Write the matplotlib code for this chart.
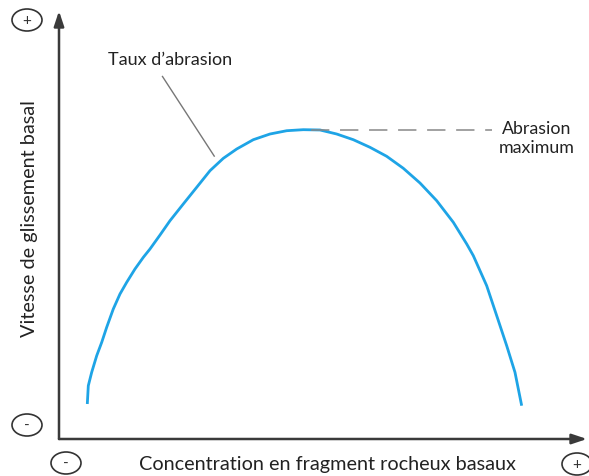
import matplotlib.pyplot as plt
from matplotlib.patches import Ellipse

plt.rcParams['font.family'] = ['Lato', 'DejaVu Sans']

# curve (x: concentration, y: vitesse), 0-100 scale
conc = [5.36, 5.55, 6.19, 7.14, 8.09, 9.03, 10.28, 11.55, 12.82, 14.39, 15.97,
        17.23, 19.13, 21.02, 23.54, 26.08, 28.60, 31.12, 33.66, 36.80, 39.96,
        43.13, 46.27, 49.43, 52.59, 55.74, 58.90, 62.06, 65.21, 68.37, 71.53,
        74.68, 77.22, 78.47, 81.00, 82.90, 84.79, 86.36, 87.63]
vitesse = [8.18, 12.45, 15.58, 19.46, 22.59, 26.10, 30.37, 33.88, 36.61, 39.72,
           42.45, 44.39, 47.66, 51.00, 54.91, 58.81, 62.69, 65.58, 67.76, 69.93,
           71.26, 72.03, 72.27, 72.20, 71.26, 69.93, 68.15, 66.05, 63.25, 59.81,
           55.68, 50.63, 45.56, 42.83, 35.82, 28.81, 21.80, 15.58, 7.78]

x_label = "Concentration en fragment rocheux basaux"
y_label = "Vitesse de glissement basal"
curve_label = "Taux d\u2019abrasion"
max_label = "Abrasion\nmaximum"

fig = plt.figure(figsize=(5.89, 4.77), dpi=100)
W, H = 589, 477
x0, y0 = 59, 440
ax = fig.add_axes([x0 / W, (H - y0) / H, (587 - x0) / W, (y0 - 12) / H])
ax.set_xlim(0, 100)
ax.set_ylim(0, 100)
ax.axis('off')

axis_col = '#3a3a3a'
arrow = dict(arrowstyle='-|>,head_length=0.9,head_width=0.3', color=axis_col,
             lw=1.8, shrinkA=0, shrinkB=0)
ax.annotate('', xy=(0, 1), xytext=(0, 0), xycoords='axes fraction', arrowprops=arrow,
            annotation_clip=False)
ax.annotate('', xy=(1, 0), xytext=(0, 0), xycoords='axes fraction', arrowprops=arrow,
            annotation_clip=False)

ax.plot(conc, vitesse, color='#1ea4e6', lw=2, solid_joinstyle='round',
        solid_capstyle='butt', clip_on=False)

# annotation "Taux d'abrasion"
ax.plot([19.6, 29.4], [84.7, 66.1], color='#777777', lw=1)
ax.text(21.0, 88.8, curve_label, ha='center', va='center', fontsize=13, color='#222222')

# abrasion maximum
peak = max(vitesse)
ax.plot([47.8, 82.0], [peak, peak], color='#888888', lw=1.1, dashes=(12, 7))
ax.text(90.5, peak - 1.8, max_label, ha='center', va='center', fontsize=12.8,
        color='#222222', linespacing=1.2)

# axis titles
fig.text(30 / W, 1 - 219 / H, y_label, rotation=90, ha='center', va='center',
         fontsize=14.3, color='#222222')
fig.text(327 / W, 1 - 465 / H, x_label, ha='center', va='center',
         fontsize=14.3, color='#222222')

# circled signs
for cx, cy, s in [(27, 21, '+'), (27, 426, '-'), (66, 464, '-'), (577, 465, '+')]:
    fig.patches.append(Ellipse((cx / W, 1 - cy / H), 30 / W, 22 / H, fill=False,
                               ec='#333333', lw=1.2, transform=fig.transFigure))
    fig.text(cx / W, 1 - cy / H, s, ha='center', va='center', fontsize=11,
             color='#333333')

fig.savefig('out.png', dpi=100)
